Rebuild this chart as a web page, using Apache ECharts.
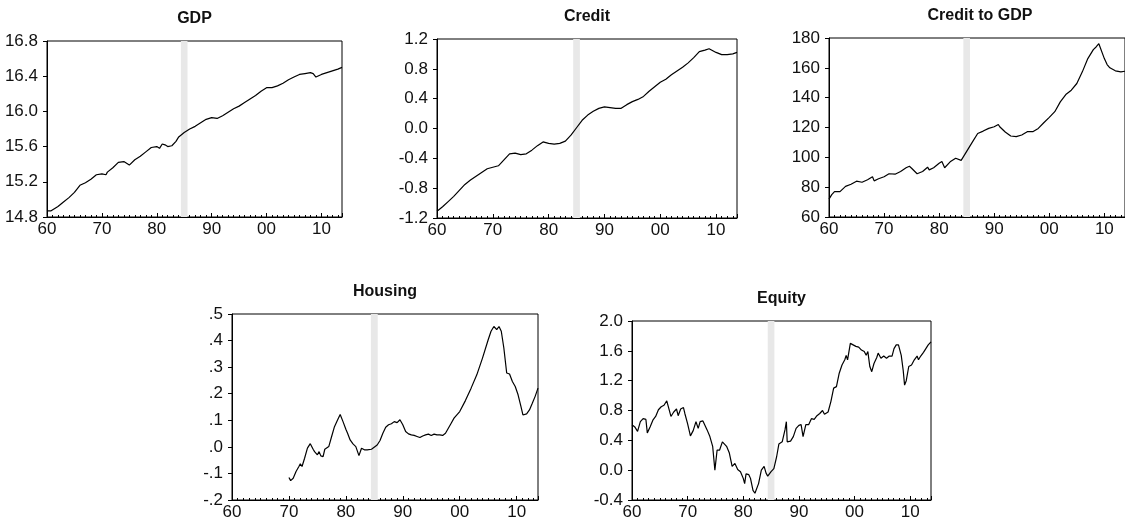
<!DOCTYPE html>
<html>
<head>
<meta charset="utf-8">
<script src="https://cdn.jsdelivr.net/npm/echarts@6/dist/echarts.min.js"></script>
<style>html,body{margin:0;padding:0;background:#fff;}#c{width:1125px;height:527px;}</style>
</head>
<body>
<div id="c"></div>
<script>
// ---- data (decimal years, values) ----
const titles = ['GDP', 'Credit', 'Credit to GDP', 'Housing', 'Equity'];
const bandStart = 1984.4, bandEnd = 1985.6;

const gdpX = [1960,1960.75,1961.1,1962,1963,1964,1965,1966,1967,1968,1969,1970,1970.75,1971,1972,1973,1974,1975,1976,1977,1978,1979,1980,1980.5,1981,1981.5,1982,1982.75,1983.5,1984,1985,1986,1987,1988,1989,1990,1991,1992,1993,1994,1995,1996,1997,1998,1999,2000,2001,2002,2003,2004,2005,2006,2007,2008,2008.5,2009,2010,2011,2012,2013,2013.75];
const gdpY = [14.87,14.87,14.85,14.92,14.97,15.02,15.08,15.16,15.19,15.23,15.28,15.29,15.28,15.31,15.36,15.42,15.43,15.39,15.45,15.49,15.54,15.59,15.60,15.58,15.63,15.62,15.60,15.61,15.66,15.71,15.76,15.80,15.83,15.87,15.91,15.93,15.92,15.95,15.99,16.03,16.06,16.10,16.14,16.18,16.23,16.27,16.27,16.29,16.32,16.36,16.39,16.42,16.43,16.44,16.43,16.39,16.42,16.44,16.46,16.48,16.50];

const creditX = [1960,1961,1962,1963,1964,1965,1966,1967,1968,1969,1970,1971,1972,1973,1974,1975,1976,1977,1978,1979,1980,1981,1982,1983,1984,1985,1986,1987,1988,1989,1990,1991,1992,1993,1994,1995,1996,1997,1998,1999,2000,2001,2002,2003,2004,2005,2006,2007,2008,2008.75,2009,2010,2011,2012,2013,2013.75];
const creditY = [-1.11,-1.05,-0.98,-0.91,-0.83,-0.75,-0.69,-0.64,-0.59,-0.54,-0.52,-0.50,-0.42,-0.34,-0.33,-0.35,-0.34,-0.29,-0.23,-0.18,-0.20,-0.21,-0.20,-0.17,-0.09,0.01,0.11,0.18,0.23,0.27,0.29,0.28,0.27,0.27,0.32,0.36,0.39,0.43,0.50,0.56,0.62,0.66,0.72,0.77,0.82,0.88,0.95,1.03,1.05,1.07,1.05,1.02,0.99,0.99,1.00,1.02];

const cgX = [1960,1960.5,1961,1962,1962.3,1963,1964,1965,1966,1967,1967.9,1968.2,1969,1970,1970.9,1971.2,1972,1973,1974,1974.6,1975,1976,1977,1977.9,1978.2,1979,1980,1980.5,1981,1982,1983,1984,1985,1986,1987,1988,1989,1990,1990.75,1991,1992,1993,1994,1995,1996,1997,1998,1999,2000,2001,2002,2003,2004,2005,2006,2007,2008,2008.5,2009,2009.3,2010,2010.5,2011,2012,2013,2013.75];
const cgY = [72,75,77,77,76.5,80.5,82,84,83.3,85,87,84.2,85.6,87,89,88,88.7,90.5,93,94,92.7,89,90.5,93.4,91.6,93,96,97.2,93,97,99.4,98,104,110,116,117.6,119.4,120.5,122,120.5,117,114.3,113.9,115,117.2,117.2,119.4,123.2,126.8,130.6,137.2,142.1,145,149.5,157.3,166.2,172.2,174,176.2,175,166.2,162.2,160,158,157.3,157.7];

const housingX = [1970,1970.3,1970.75,1971.25,1971.75,1972,1972.3,1972.75,1973.25,1973.75,1974.25,1974.5,1974.75,1975,1975.3,1975.6,1976,1976.3,1977,1977.5,1978,1978.5,1979,1979.5,1980,1980.3,1980.75,1981.25,1981.75,1982,1982.3,1982.5,1982.75,1983.25,1983.75,1984.5,1985.5,1986,1986.5,1987,1987.5,1988,1988.5,1989,1989.5,1990,1990.5,1991,1991.5,1992,1992.5,1993,1993.5,1994,1994.5,1995,1995.5,1996,1996.5,1997,1997.5,1998,1998.5,1999,2000,2001,2002,2003,2004,2005,2005.5,2006,2006.5,2006.9,2007.3,2007.75,2008.25,2008.75,2009.25,2009.75,2010.25,2010.75,2011.1,2011.75,2012.25,2012.75,2013.25,2013.75];
const housingY = [-0.115,-0.127,-0.118,-0.093,-0.074,-0.064,-0.074,-0.043,-0.005,0.012,-0.009,-0.018,-0.011,-0.030,-0.018,-0.034,-0.037,-0.009,0.001,0.039,0.076,0.099,0.122,0.095,0.066,0.051,0.026,0.011,0.001,0.001,-0.033,-0.028,-0.005,-0.011,-0.011,-0.009,0.007,0.024,0.051,0.074,0.083,0.087,0.095,0.091,0.102,0.083,0.058,0.049,0.045,0.043,0.039,0.035,0.041,0.045,0.048,0.043,0.048,0.045,0.045,0.043,0.051,0.070,0.089,0.108,0.133,0.174,0.221,0.271,0.334,0.403,0.435,0.453,0.441,0.453,0.435,0.372,0.278,0.274,0.246,0.227,0.196,0.152,0.120,0.124,0.139,0.164,0.190,0.221];

const equityX = [1960,1960.5,1961,1961.5,1962,1962.5,1962.75,1963.25,1963.75,1964.25,1964.75,1965.25,1965.75,1966.25,1966.6,1967,1967.5,1968,1968.3,1968.75,1969.25,1969.5,1970,1970.5,1971,1971.5,1971.9,1972.25,1972.75,1973,1973.5,1974,1974.5,1974.9,1975.3,1975.75,1976.25,1976.5,1977,1977.5,1978,1978.5,1979,1979.5,1980,1980.25,1980.5,1981,1981.3,1981.75,1982.1,1982.4,1982.75,1983.25,1983.75,1984.1,1984.4,1985,1985.5,1986,1986.4,1987,1987.5,1987.75,1987.9,1988.5,1989,1989.5,1990,1990.4,1990.75,1991.25,1991.75,1992.25,1992.75,1993.25,1993.75,1994.25,1994.6,1995.25,1995.75,1996.25,1996.75,1997.25,1997.75,1998.25,1998.5,1998.75,1999.25,1999.75,2000.25,2000.75,2001.25,2001.75,2002.1,2002.4,2002.75,2003.1,2003.5,2004,2004.25,2004.75,2005.25,2005.75,2006.25,2006.75,2007.1,2007.5,2007.9,2008.4,2008.75,2009,2009.3,2009.75,2010.25,2010.5,2010.75,2011.25,2011.5,2011.9,2012.4,2012.75,2013.25,2013.75];
const equityY = [0.61,0.58,0.52,0.65,0.69,0.68,0.50,0.58,0.67,0.72,0.81,0.85,0.87,0.93,0.92,0.72,0.78,0.82,0.73,0.82,0.84,0.76,0.62,0.46,0.53,0.65,0.56,0.65,0.66,0.68,0.54,0.45,0.32,0.00,0.27,0.27,0.38,0.39,0.32,0.23,0.05,0.09,0.01,-0.02,-0.11,-0.18,-0.05,-0.06,-0.11,-0.27,-0.31,-0.29,-0.18,0.00,0.05,-0.04,-0.08,-0.02,0.02,0.18,0.35,0.38,0.54,0.65,0.38,0.39,0.45,0.56,0.60,0.61,0.45,0.61,0.61,0.69,0.68,0.73,0.76,0.80,0.75,0.78,0.92,1.10,1.12,1.30,1.41,1.48,1.54,1.48,1.70,1.68,1.66,1.65,1.61,1.59,1.54,1.59,1.39,1.32,1.43,1.51,1.57,1.50,1.53,1.50,1.53,1.53,1.63,1.68,1.68,1.54,1.34,1.14,1.20,1.39,1.41,1.39,1.48,1.53,1.48,1.53,1.58,1.59,1.68,1.72];

// y-axis ranges: [min, max, interval]
const yRanges = [[14.8,16.8,0.4],[-1.2,1.2,0.4],[60,180,20],[-0.2,0.5,0.1],[-0.4,2.0,0.4]];
const xMin = 1960, xMax = 2013.75;

// ---- layout ----
const grids = [
  {left:47, top:41, width:295, height:176},
  {left:437, top:39, width:300, height:179},
  {left:829, top:38, width:302, height:179},
  {left:232, top:314, width:306, height:186},
  {left:632, top:321, width:299, height:179}
];
const seriesXY = [[gdpX,gdpY],[creditX,creditY],[cgX,cgY],[housingX,housingY],[equityX,equityY]];
const yFmt = [
  v => v.toFixed(1),
  v => v.toFixed(1),
  v => String(Math.round(v)),
  v => { let s = v.toFixed(1); if (s === '-0.0') s = '0.0'; return s.replace(/^(-?)0\./, '$1.'); },
  v => v.toFixed(1)
];

const FONT = 'Liberation Sans, Arial, sans-serif';
const option = {animation:false, backgroundColor:'#fff', title:[], grid:[], xAxis:[], yAxis:[], series:[]};

grids.forEach((g, i) => {
  option.grid.push(Object.assign({show:true, borderColor:'#000', borderWidth:1, backgroundColor:'#fff', containLabel:false}, g));
  option.title.push({
    text: titles[i], left: g.left + g.width/2, top: g.top - 30, textAlign:'center', padding:0,
    textStyle:{fontFamily:FONT, fontSize:16, fontWeight:'bold', color:'#111'}
  });
  // yearly ticks + decade labels
  option.xAxis.push({
    type:'value', gridIndex:i, min:xMin, max:xMax, interval:1,
    axisLine:{show:true, onZero:false, lineStyle:{color:'#000', width:1}},
    axisTick:{show:true, inside:true, length:2, lineStyle:{color:'#000'}},
    splitLine:{show:false},
    axisLabel:{show:true, margin:4, showMaxLabel:false, fontFamily:FONT, fontSize:17, color:'#111',
      formatter: v => (Math.abs(v % 10) < 1e-6) ? String(Math.round(v) % 100).padStart(2,'0') : ''}
  });
  // decade ticks (longer)
  option.xAxis.push({
    type:'value', gridIndex:i, min:xMin, max:xMax, interval:10, position:'bottom',
    axisLine:{show:false, onZero:false}, axisLabel:{show:false}, splitLine:{show:false},
    axisTick:{show:true, inside:true, length:4, lineStyle:{color:'#000'}}
  });
  const r = yRanges[i];
  option.yAxis.push({
    type:'value', gridIndex:i, min:r[0], max:r[1], interval:r[2],
    axisLine:{show:true, onZero:false, lineStyle:{color:'#000', width:1}},
    axisTick:{show:true, inside:false, length:4, lineStyle:{color:'#000'}},
    splitLine:{show:false},
    axisLabel:{margin:9, fontFamily:FONT, fontSize:17, color:'#111', formatter:yFmt[i]}
  });
  const [xs, ys] = seriesXY[i];
  option.series.push({
    type:'line', xAxisIndex:2*i, yAxisIndex:i, showSymbol:false, symbol:'none',
    data: xs.map((x, k) => [x, ys[k]]),
    lineStyle:{color:'#000', width:1.2},
    markArea:{silent:true, itemStyle:{color:'#e8e8e8'}, data:[[{xAxis:bandStart},{xAxis:bandEnd}]]},
    z:3
  });
});

const chart = echarts.init(document.getElementById('c'), null, {renderer:'canvas'});
chart.setOption(option);
</script>
</body>
</html>
